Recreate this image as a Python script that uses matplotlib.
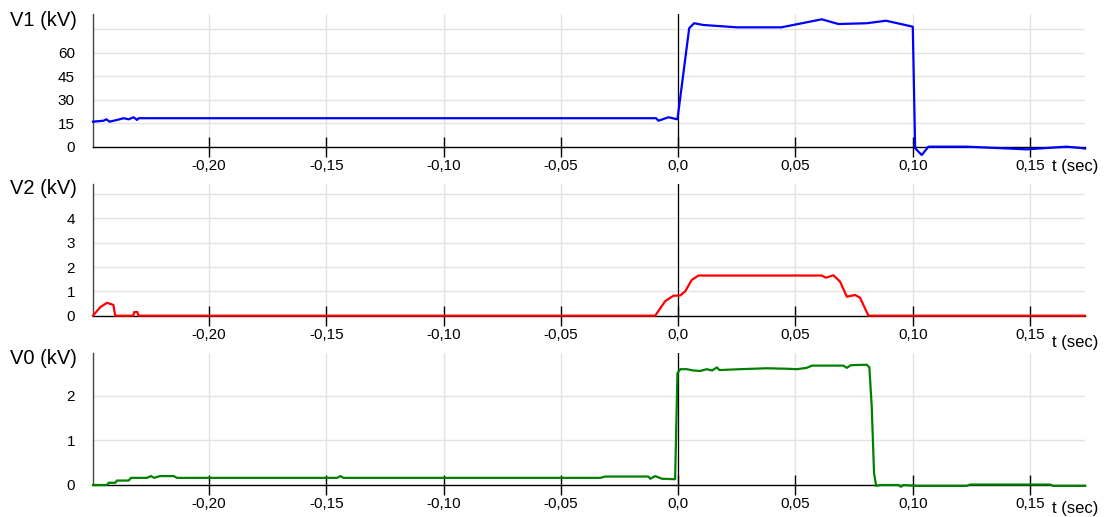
import numpy as np
import matplotlib
matplotlib.use("Agg")
import matplotlib.pyplot as plt

plt.rcParams['font.family'] = ['Liberation Sans', 'DejaVu Sans']

# V1 (kV) trace
t1 = [-0.2494, -0.2449, -0.2437, -0.2423, -0.2392, -0.2363, -0.2342, -0.2321, -0.2306, -0.2300,
      -0.0094, -0.0084, -0.0041, -0.0003, 0.0047, 0.0068, 0.0107, 0.0250, 0.0440, 0.0612,
      0.0683, 0.0804, 0.0886, 0.1000, 0.1010, 0.1038, 0.1067, 0.1230, 0.1486, 0.1656,
      0.1713, 0.1734]
v1 = [16.1, 16.7, 17.6, 16.1, 17.2, 18.3, 17.6, 18.9, 17.2, 18.3,
      18.3, 16.7, 18.9, 17.6, 75.5, 78.7, 77.6, 76.1, 76.1, 81.2,
      78.2, 78.7, 80.3, 76.5, -0.8, -5.1, 0.2, 0.2, -1.5, 0.2,
      -0.6, -1.0]

# V2 (kV) trace
t2 = [-0.2494, -0.2463, -0.2434, -0.2407, -0.2403, -0.2399, -0.2323, -0.2318, -0.2305, -0.2300,
      -0.0098, -0.0055, -0.0020, 0.0009, 0.0030, 0.0058, 0.0087, 0.0612, 0.0630, 0.0662,
      0.0690, 0.0719, 0.0754, 0.0775, 0.0811, 0.1734]
v2 = [0.0, 0.35, 0.53, 0.44, 0.2, 0.0, 0.0, 0.15, 0.15, 0.0,
      0.0, 0.60, 0.82, 0.83, 1.0, 1.47, 1.65, 1.65, 1.56, 1.66,
      1.40, 0.78, 0.85, 0.74, 0.0, 0.0]

# V0 (kV) trace
t0 = [-0.2494, -0.2434, -0.2427, -0.2399, -0.2392, -0.2342, -0.2332, -0.2264, -0.2247, -0.2233,
      -0.2210, -0.2150, -0.2136, -0.1454, -0.1440, -0.1426, -0.0332, -0.0311, -0.0127, -0.0119,
      -0.0098, -0.0069, -0.0013, -0.0003, 0.0009, 0.0037, 0.0065, 0.0094, 0.0122, 0.0144,
      0.0165, 0.0176, 0.0264, 0.0378, 0.0463, 0.0506, 0.0548, 0.0570, 0.0704, 0.0719,
      0.0736, 0.0804, 0.0815, 0.0825, 0.0835, 0.0844, 0.0861, 0.0939, 0.0949, 0.0960,
      0.1017, 0.1230, 0.1244, 0.1585, 0.1599, 0.1734]
v0 = [0.0, 0.0, 0.05, 0.05, 0.10, 0.10, 0.16, 0.16, 0.20, 0.16,
      0.20, 0.20, 0.16, 0.16, 0.20, 0.16, 0.16, 0.19, 0.19, 0.14,
      0.20, 0.14, 0.13, 2.51, 2.60, 2.60, 2.57, 2.56, 2.60, 2.57,
      2.64, 2.58, 2.60, 2.62, 2.61, 2.60, 2.63, 2.68, 2.68, 2.63,
      2.69, 2.70, 2.64, 1.76, 0.26, -0.02, 0.0, 0.0, -0.04, 0.0,
      -0.02, -0.02, 0.01, 0.01, -0.02, -0.02]

x_ticks = [-0.20, -0.15, -0.10, -0.05, 0.0, 0.05, 0.10, 0.15]
x_labels = ['-0,20', '-0,15', '-0,10', '-0,05', '0,0', '0,05', '0,10', '0,15']

panels = [
    # (t, v, color, ylabel, yticks, ylabels, ymax, bottom, height, label_y, tsec_y)
    (t1, v1, '#0000ff', 'V1 (kV)', [0, 15, 30, 45, 60, 75], ['0', '15', '30', '45', '60', ''], 84.6, 0.7157, 0.2573, 21, 166),
    (t2, v2, '#ff0000', 'V2 (kV)', [0, 1, 2, 3, 4, 5], ['0', '1', '2', '3', '4', ''], 5.4, 0.3894, 0.2542, 188, 343),
    (t0, v0, '#008000', 'V0 (kV)', [0, 1, 2], ['0', '1', '2'], 2.97, 0.0619, 0.2559, 358, 508),
]

W, H = 1104, 517
fig = plt.figure(figsize=(W / 100, H / 100), dpi=100)

for t, v, col, ylab, yt, ylbl, ymax, bot, hgt, ly, ty in panels:
    ax = fig.add_axes([93 / W, bot, (1085 - 93) / W, hgt])
    ax.set_xlim(-0.2494, 0.1734)
    ax.set_ylim(0, ymax)
    ax.set_xticks(x_ticks)
    ax.set_xticklabels(x_labels)
    ax.set_yticks(yt)
    ax.set_yticklabels(ylbl)
    ax.grid(True, color='#e3e3e3', linewidth=1.0)
    ax.set_axisbelow(True)
    for s in ['top', 'right']:
        ax.spines[s].set_visible(False)
    ax.spines['left'].set_color('#444444')
    ax.spines['left'].set_linewidth(1.0)
    ax.spines['bottom'].set_color('black')
    ax.spines['bottom'].set_linewidth(1.0)
    ax.axvline(0, color='black', linewidth=0.9, zorder=2)
    ax.tick_params(axis='x', direction='inout', length=14, width=1, pad=2,
                   labelsize=11, colors='black')
    ax.tick_params(axis='y', length=0, pad=13, labelsize=11)
    ax.plot(t, v, color=col, linewidth=1.6, clip_on=False, zorder=3)
    fig.text(10 / W, 1 - ly / H, ylab, fontsize=14.5, ha='left', va='center')
    fig.text(1052 / W, 1 - ty / H, 't (sec)', fontsize=12, ha='left', va='center')

fig.savefig('out.png', dpi=100)
